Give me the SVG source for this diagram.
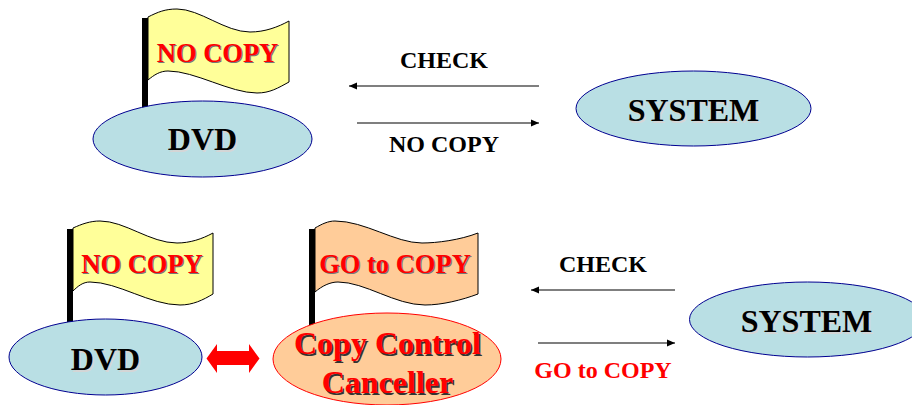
<svg xmlns="http://www.w3.org/2000/svg" width="912" height="405" viewBox="0 0 912 405">
<style>
text{font-family:"Liberation Serif","Times New Roman",serif;font-weight:bold;text-anchor:middle}
.lbl{font-size:24px;fill:#000}
.red{fill:#f00}
.big{font-size:32px;fill:#000;text-shadow:1.5px 1.5px 0 #d5d5d5}
.flagt{font-size:26.5px;fill:#f00;text-shadow:1px 1px 0 #777}
.cc{font-size:32px;fill:#f00;text-shadow:1.5px 1.5px 0 #333}
.disc{fill:#b9dfe4;stroke:#000090;stroke-width:1}
.flag{stroke:#000;stroke-width:1}
.y{fill:#ffff99}.o{fill:#ffcc99}
.pole{fill:#000}
.conn{stroke:#000;stroke-width:1.100;fill:none;marker-end:url(#ah)}
</style>
<defs>
<marker id="ah" markerUnits="userSpaceOnUse" markerWidth="10" markerHeight="8" refX="8" refY="4" orient="auto"><path d="M0 0.500L8 4L0 7.500Z" fill="#000"/></marker>
</defs>
<g id="connectors">
<path class="conn" d="M539 86H349"/>
<path class="conn" d="M357 123H539"/>
<path class="conn" d="M675 290H531"/>
<path class="conn" d="M538 343H675"/>
<path fill="#f00" d="M206.500 358.500L217 344V351H249V344L259.500 358.500L249 373V365H217V373Z"/>
</g>
<g id="flag-top">
<path class="flag y" d="M148 17C158 12 165 9 177 9C200 9 225 32 250 32C265 32 278 27 289 21V82C278 88 270 93 257 93C230 93 195 71 168 71C160 71 154 75 148 80Z"/>
<rect class="pole" x="142" y="18" width="6" height="91"/>
<text class="flagt" x="217.500" y="62">NO COPY</text>
</g>
<g id="dvd-top">
<ellipse class="disc" cx="202.500" cy="139" rx="109.500" ry="38"/>
<text class="big" x="202.500" y="150">DVD</text>
</g>
<g id="system-top">
<ellipse class="disc" cx="693.500" cy="108.500" rx="117.500" ry="37.500"/>
<text class="big" x="693.500" y="121">SYSTEM</text>
</g>
<g id="flag-bottom-left">
<path class="flag y" d="M73 228C82 224 90 221 100 221C125 221 150 243 177 243C190 243 202 239 213 233V294C203 300 193 305 180 305C150 305 118 282 90 282C83 282 78 286 73 291Z"/>
<rect class="pole" x="67" y="229" width="6" height="93"/>
<text class="flagt" x="142" y="273">NO COPY</text>
</g>
<g id="dvd-bottom">
<ellipse class="disc" cx="105.500" cy="357" rx="96.500" ry="38"/>
<text class="big" x="105.500" y="370">DVD</text>
</g>
<g id="flag-go">
<path class="flag o" d="M315 228C322 224 328 221 335 221C365 221 395 243 422 243C437 243 460 240 478 233V294C462 300 442 305 425 305C395 305 365 282 338 282C330 282 322 286 315 292Z"/>
<rect class="pole" x="309" y="229" width="6" height="96"/>
<text class="flagt" x="395" y="273">GO to COPY</text>
</g>
<g id="canceller">
<ellipse cx="387" cy="359" rx="114" ry="46" fill="#ffcc99" stroke="#f00" stroke-width="1"/>
<text class="cc" x="387.500" y="354">Copy Control</text>
<text class="cc" x="387.500" y="393">Canceller</text>
</g>
<g id="system-bottom">
<ellipse class="disc" cx="807.500" cy="319.500" rx="118" ry="37.500"/>
<text class="big" x="806.500" y="332">SYSTEM</text>
</g>
<g id="labels">
<text class="lbl" x="444" y="68">CHECK</text>
<text class="lbl" x="444" y="152">NO COPY</text>
<text class="lbl" x="603" y="272">CHECK</text>
<text class="lbl red" x="603" y="378">GO to COPY</text>
</g>
</svg>
